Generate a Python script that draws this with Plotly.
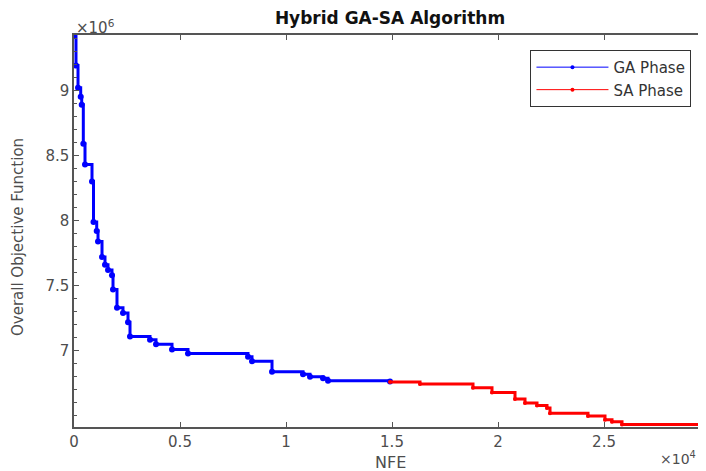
import plotly.graph_objects as go

# GA phase step points (NFE, objective)
ga_nfe = [0, 94, 189, 316, 363, 439, 519, 849, 920, 1071, 1132, 1321, 1462, 1604,
          1792, 1840, 2028, 2311, 2547, 2642, 3585, 3868, 4623, 5377, 8208, 8396,
          9340, 10802, 11132, 11745, 11981, 14906]
ga_obj = [9.42e6, 9.19e6, 9.02e6, 8.95e6, 8.89e6, 8.59e6, 8.43e6, 8.30e6, 7.99e6,
          7.92e6, 7.84e6, 7.72e6, 7.66e6, 7.62e6, 7.58e6, 7.47e6, 7.33e6, 7.29e6,
          7.22e6, 7.11e6, 7.085e6, 7.05e6, 7.01e6, 6.98e6, 6.955e6, 6.92e6, 6.84e6,
          6.82e6, 6.80e6, 6.79e6, 6.77e6, 6.765e6]

# SA phase step points
sa_nfe = [14906, 16321, 18821, 19717, 20802, 21274, 21840, 22311, 22453, 24245,
          25047, 25377, 25849, 30000]
sa_obj = [6.76e6, 6.746e6, 6.717e6, 6.68e6, 6.63e6, 6.60e6, 6.58e6, 6.56e6, 6.52e6,
          6.50e6, 6.47e6, 6.455e6, 6.435e6, 6.43e6]

x_tickvals = [0, 5000, 10000, 15000, 20000, 25000]
x_ticktext = ["0", "0.5", "1", "1.5", "2", "2.5"]
y_tickvals = [7.0e6, 7.5e6, 8.0e6, 8.5e6, 9.0e6]
y_ticktext = ["7", "7.5", "8", "8.5", "9"]

FONT = "DejaVu Sans, Liberation Sans, Arial, sans-serif"
AX = "#555555"
TXT = "#4d4d4d"

fig = go.Figure()
fig.add_trace(go.Scatter(x=ga_nfe, y=ga_obj, mode="lines+markers", name="GA Phase",
                         showlegend=False,
                         line=dict(color="#0000ff", width=3, shape="hv"),
                         marker=dict(color="#0000ff", size=6)))
fig.add_trace(go.Scatter(x=sa_nfe, y=sa_obj, mode="lines+markers", name="SA Phase",
                         showlegend=False,
                         line=dict(color="#ff0000", width=3, shape="hv"),
                         marker=dict(color="#ff0000", size=4)))
# legend entries (thin line with dot, as in the reference)
fig.add_trace(go.Scatter(x=[None], y=[None], mode="lines+markers", name="GA Phase",
                         line=dict(color="#0000ff", width=1), marker=dict(color="#0000ff", size=4)))
fig.add_trace(go.Scatter(x=[None], y=[None], mode="lines+markers", name="SA Phase",
                         line=dict(color="#ff0000", width=1), marker=dict(color="#ff0000", size=4)))

# page body has an 8px default margin, so the figure is 8px smaller on each used side
W, H = 698, 463
fig.update_layout(
    width=W, height=H,
    margin=dict(l=66, r=0, t=27, b=44, autoexpand=False),
    paper_bgcolor="white", plot_bgcolor="white",
    font=dict(family=FONT, color=TXT, size=14),
    title=dict(text="<b>Hybrid GA-SA Algorithm</b>", x=0.5, xref="paper", xanchor="center",
               y=1 - 10 / H, yref="container", yanchor="middle", font=dict(size=17, color="#111111")),
    showlegend=True,
    legend=dict(x=0.977, y=0.962, xanchor="right", yanchor="top",
                bgcolor="white", bordercolor="#333333", borderwidth=1,
                font=dict(size=15, color="#333333"), tracegroupgap=0,
                itemwidth=72),
    xaxis=dict(range=[0, 29811], tickvals=x_tickvals, ticktext=x_ticktext, automargin=False,
               showgrid=False, zeroline=False, showline=True, linecolor=AX, linewidth=1.5,
               mirror="ticks", ticks="inside", ticklen=5, tickcolor=AX,
               tickfont=dict(size=15, color=TXT)),
    yaxis=dict(range=[6.415e6, 9.425e6], tickvals=y_tickvals, ticktext=y_ticktext, automargin=False,
               showgrid=False, zeroline=False, showline=True, linecolor=AX, linewidth=1.5,
               mirror="ticks", ticks="inside", ticklen=5, tickcolor=AX,
               tickfont=dict(size=15, color=TXT),
               minor=dict(dtick=100000, ticks="inside", ticklen=3, tickcolor=AX, showgrid=False)),
)

fig.add_annotation(text="NFE", xref="paper", yref="paper", x=0.5, y=0, xanchor="center",
                   yanchor="middle", yshift=-35, showarrow=False,
                   font=dict(size=16, color=TXT))
fig.add_annotation(text="Overall Objective Function", xref="paper", yref="paper", x=0, y=0.5,
                   xanchor="center", yanchor="middle", xshift=-56, yshift=-6, textangle=-90,
                   showarrow=False, font=dict(size=15, color=TXT))
fig.add_annotation(text="×10<sup>6</sup>", xref="paper", yref="paper", x=0, y=1,
                   xanchor="left", yanchor="bottom", showarrow=False,
                   font=dict(size=15, color=TXT), yshift=-4)
fig.add_annotation(text="×10<sup>4</sup>", xref="paper", yref="paper", x=1, y=0,
                   xanchor="right", yanchor="top", showarrow=False,
                   font=dict(size=14, color=TXT), yshift=-20, xshift=-8)

fig.write_html("out.html")
